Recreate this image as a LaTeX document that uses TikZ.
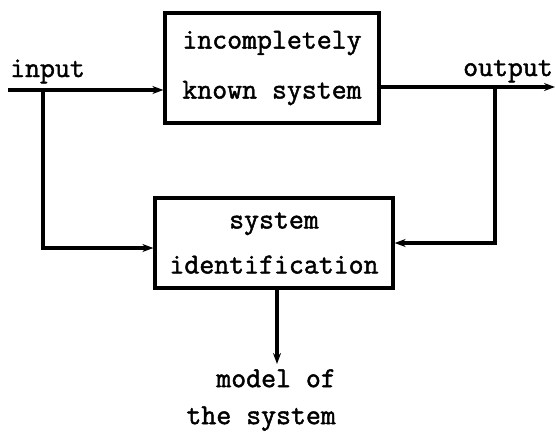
\documentclass[tikz,border=0pt]{standalone}
\usepackage{fontspec}
\newfontfamily\tw[FakeBold=1.6]{Latin Modern Mono}
\usetikzlibrary{arrows.meta}
\tikzset{
  blk/.style={draw, line width=3.2pt, inner sep=0pt, align=center},
  lbl/.style={inner sep=0pt},
  arr/.style={line width=3.2pt, -{Stealth[length=11pt,width=8pt]}},
}
\begin{document}
\begin{tikzpicture}[x=1pt,y=-1pt]
\useasboundingbox (0,0) rectangle (556,434);
\node[blk, minimum width=214pt, minimum height=110pt,
  font={\tw\fontsize{29}{50}\selectfont}] (top) at (272,68)
  {incompletely\\known system};
\node[blk, minimum width=238pt, minimum height=90pt,
  font={\tw\fontsize{29}{45}\selectfont}] (sid) at (274,243)
  {system\\identification};
\node[lbl, anchor=base west, font={\tw\fontsize{29}{35}\selectfont}] (inl) at (10,77) {input};
\node[lbl, anchor=base east, font={\tw\fontsize{29}{35}\selectfont}] (outl) at (553,76) {output};
\node[lbl, align=right, anchor=east, font={\tw\fontsize{29}{37}\selectfont}] (model) at (336,400)
  {model of\\the system};
% input line
\coordinate (in) at (8,90);
\coordinate (inb) at (43,90);
\coordinate (inc) at (43,248);
\draw[arr] (in) -- (in -| top.west);
\draw[arr] (inb) -- (inc) -- (inc -| sid.west);
% output line
\coordinate (outs) at (379,87);
\coordinate (oute) at (555,87);
\coordinate (outb) at (495,87);
\coordinate (outc) at (495,243);
\draw[arr] (outs -| top.east) -- (oute);
\draw[arr] (outb) -- (outc) -- (outc -| sid.east);
% model arrow
\coordinate (ms) at (277,288);
\coordinate (me) at (277,364);
\draw[arr] (ms |- sid.south) -- (me);
\end{tikzpicture}
\end{document}
